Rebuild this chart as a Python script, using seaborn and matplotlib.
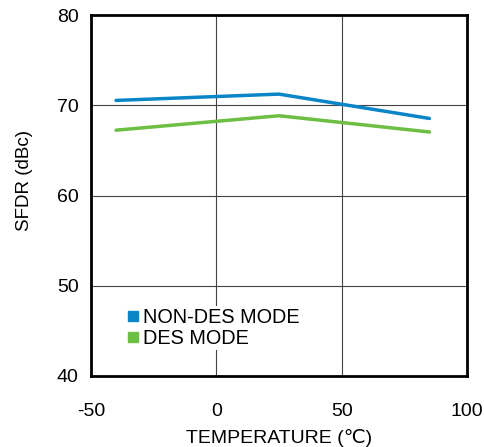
import matplotlib
matplotlib.use("Agg")
import matplotlib.pyplot as plt
import seaborn as sns
import pandas as pd
from matplotlib.lines import Line2D

temps = [-40, 25, 85]
non_des = [70.55, 71.25, 68.55]
des = [67.25, 68.85, 67.05]
series_names = ["NON-DES MODE", "DES MODE"]
colors = ["#0a85c8", "#6cbf43"]
xticks = [-50, 0, 50, 100]
xtick_labels = ["-50", "0", "50", "100"]
yticks = [40, 50, 60, 70, 80]

df = pd.DataFrame({
    "temp": temps * 2,
    "sfdr": non_des + des,
    "mode": [series_names[0]] * 3 + [series_names[1]] * 3,
})

sns.set_style("white")
plt.rcParams['font.family'] = ['Liberation Sans', 'DejaVu Sans']
plt.rcParams['text.color'] = 'black'
plt.rcParams['axes.labelcolor'] = 'black'

fig = plt.figure(figsize=(4.84, 4.47), dpi=100)
ax = fig.add_axes([0.188, 0.159, 0.777, 0.807])

sns.lineplot(data=df, x="temp", y="sfdr", hue="mode", palette=colors,
             linewidth=2.5, ax=ax, legend=False, zorder=3)

ax.set_xlim(-50, 100)
ax.set_ylim(40, 80)
ax.set_xticks(xticks)
ax.set_xticklabels(xtick_labels)
ax.set_yticks(yticks)
ax.tick_params(axis='both', length=0, labelsize=14, colors='black')
ax.tick_params(axis='x', pad=19.5)
ax.tick_params(axis='y', pad=9)
ax.grid(True, color='#444444', linewidth=0.8)
ax.set_axisbelow(True)
for s in ax.spines.values():
    s.set_linewidth(2)
    s.set_color('black')
ax.set_xlabel("TEMPERATURE (℃)", fontsize=14, labelpad=6.5)
ax.set_ylabel("SFDR (dBc)", fontsize=13.5)
ax.yaxis.set_label_coords(-0.155, 0.543)

handles = [Line2D([], [], marker='s', linestyle='none', color=c, markersize=6.5) for c in colors]
leg = ax.legend(handles, series_names, loc='lower left', bbox_to_anchor=(0.059, 0.045),
                frameon=True, fontsize=14.3, handletextpad=0.1, labelspacing=0.08,
                borderpad=0.1, handlelength=0.8, framealpha=1, edgecolor='none')
leg.get_frame().set_facecolor('white')

fig.savefig("out.png", dpi=100)
